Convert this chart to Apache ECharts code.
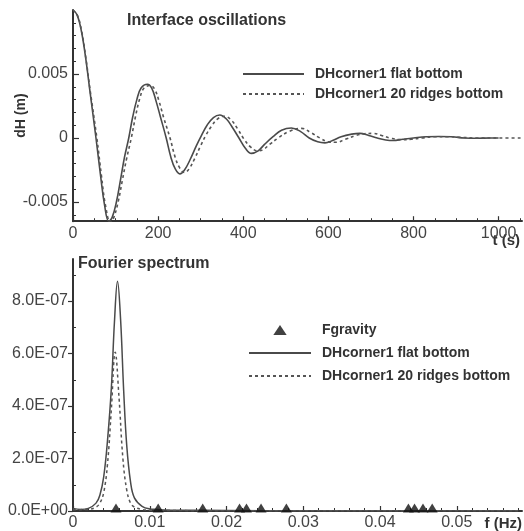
<!DOCTYPE html>
<html>
<head>
<meta charset="utf-8">
<script src="https://cdn.jsdelivr.net/npm/echarts@6/dist/echarts.min.js"></script>
<style>
html,body{margin:0;padding:0;background:#fff;}
#c{width:524px;height:531px;}
</style>
</head>
<body>
<div id="c"></div>
<script>
// ---- Top chart: interface oscillations ----
const tFlat  = [0,10,20,30,40,54,65,74,84,92,102,112,121,131,140,150,160,175,185,195,205,219,230,240,251,262,275,290,302,315,330,345,360,375,390,405,419,435,450,470,490,513,535,555,575,592,610,630,655,674,695,715,735,752,775,800,830,860,890,920,950,980,1000];
const dhFlat = [0.0100,0.0096,0.0083,0.0062,0.0036,0,-0.0030,-0.0052,-0.0065,-0.0062,-0.0050,-0.0032,-0.0015,0,0.0016,0.0030,0.0039,0.0042,0.0039,0.0029,0.0017,0,-0.0015,-0.0024,-0.0028,-0.0025,-0.0017,-0.0006,0.0002,0.0010,0.0016,0.0018,0.0015,0.0008,0.0000,-0.0008,-0.0012,-0.0010,-0.0005,0.0001,0.0006,0.00078,0.0005,0.0000,-0.0003,-0.00038,-0.0002,0.0001,0.0003,0.00036,0.0002,0.0000,-0.00015,-0.0002,-0.0001,0.0000,0.0001,0.00012,0.0001,0.0000,-0.00002,0.0,0.0];
const tRidges  = [0,10,20,30,40,56,67,76,88,96,106,116,126,137,147,157,167,182,192,202,213,228,240,250,262,273,286,300,312,325,340,356,372,387,402,417,433,447,462,482,507,537,560,580,600,619,640,665,685,705,725,745,772,795,820,850,880,910,950,1000,1055];
const dhRidges = [0.0100,0.0096,0.0084,0.0063,0.0038,0,-0.0030,-0.0052,-0.0066,-0.0062,-0.0050,-0.0033,-0.0016,0,0.0017,0.0031,0.0039,0.0041,0.0038,0.0029,0.0016,0,-0.0015,-0.0023,-0.0027,-0.0024,-0.0016,-0.0006,0.0002,0.0009,0.0015,0.0017,0.0014,0.0007,-0.0001,-0.0007,-0.0010,-0.0009,-0.0005,0.0000,0.0005,0.00075,0.0004,0.0000,-0.0003,-0.00033,-0.0001,0.0002,0.00033,0.00036,0.0002,0.0000,-0.00013,-0.0001,0.0000,0.0001,0.0001,0.00005,0.0,0.0,0.0];
const tTicks  = [0,200,400,600,800,1000];
const tMinor  = [50,100,150,250,300,350,450,500,550,650,700,750,850,900,950,1050];
const dhTicks = [-0.005,0,0.005];
const dhMinor = [-0.006,-0.004,-0.003,-0.002,-0.001,0.001,0.002,0.003,0.004,0.006,0.007,0.008,0.009];

// ---- Bottom chart: Fourier spectrum ----
const fFlat  = [0,0.001,0.002,0.003,0.0035,0.004,0.0045,0.005,0.0054,0.0058,0.0062,0.0066,0.007,0.0075,0.008,0.009,0.010,0.011,0.012,0.014,0.02,0.03,0.04,0.05,0.058];
const aFlat  = [1.0e-8,0.6e-8,1.0e-8,3e-8,6e-8,1.3e-7,2.7e-7,4.7e-7,7.2e-7,8.75e-7,7.3e-7,4.6e-7,2.5e-7,1.1e-7,5e-8,1.8e-8,0.8e-8,0.6e-8,0.4e-8,0.3e-8,0.2e-8,0.1e-8,0.1e-8,0.1e-8,0.1e-8];
const fRidges = [0,0.002,0.003,0.0035,0.004,0.0045,0.005,0.0055,0.006,0.0065,0.007,0.0075,0.008,0.009,0.01,0.012,0.02,0.03,0.04,0.05,0.058];
const aRidges = [0.5e-8,0.6e-8,1.5e-8,3e-8,7e-8,1.8e-7,3.9e-7,6.05e-7,4.3e-7,2.0e-7,8e-8,3e-8,1.5e-8,0.6e-8,0.3e-8,0.2e-8,0.1e-8,0.1e-8,0.1e-8,0.1e-8,0.1e-8];
const fGravity = [0.0056,0.0111,0.0169,0.0217,0.0226,0.0245,0.0278,0.0437,0.0445,0.0456,0.0468];
const fTicks = [0,0.01,0.02,0.03,0.04,0.05];
const fMinor = [0.002,0.004,0.006,0.008,0.012,0.014,0.016,0.018,0.022,0.024,0.026,0.028,0.032,0.034,0.036,0.038,0.042,0.044,0.046,0.048,0.052,0.054,0.056,0.058];
const aTicks = [0,2e-7,4e-7,6e-7,8e-7];
const aMinor = [1e-7,3e-7,5e-7,7e-7,9e-7];

const NAME_FLAT = 'DHcorner1 flat bottom';
const NAME_RIDGES = 'DHcorner1 20 ridges bottom';
const NAME_GRAV = 'Fgravity';

const zip = (a, b) => a.map((v, i) => [v, b[i]]);
const FONT = 'Liberation Sans, Arial, sans-serif';
const labelColor = '#444';
const axisColor = '#333';

function sci(v) {
  if (v === 0) return '0.0E+00';
  const e = Math.floor(Math.log10(Math.abs(v)) + 1e-9);
  const m = v / Math.pow(10, e);
  const sign = e < 0 ? '-' : '+';
  const ae = Math.abs(e);
  return m.toFixed(1) + 'E' + sign + (ae < 10 ? '0' + ae : ae);
}
function plain(v) { return String(Math.round(v * 1e6) / 1e6); }

const chart = echarts.init(document.getElementById('c'), null, {renderer: 'canvas'});

const T_MAX = 1055, DH_MIN = -0.0065, DH_MAX = 0.0100;
const F_MAX = 0.0585, A_MAX = 9.6e-7;

const hiddenSym = {opacity: 0, color: 'transparent', borderWidth: 0};
const legendText = {fontFamily: FONT, fontSize: 14, fontWeight: 'bold', color: '#333', padding: [0,0,0,6]};

chart.setOption({
  animation: false,
  backgroundColor: '#fff',
  title: [
    {text: 'Interface oscillations', left: 127, top: 13, padding: 0,
     textStyle: {fontFamily: FONT, fontSize: 16, fontWeight: 'bold', color: '#333'}},
    {text: 'Fourier spectrum', left: 78, top: 256, padding: 0,
     textStyle: {fontFamily: FONT, fontSize: 16, fontWeight: 'bold', color: '#333'}}
  ],
  legend: [
    {data: [{name: NAME_FLAT, itemStyle: hiddenSym}, {name: NAME_RIDGES, itemStyle: hiddenSym}],
     orient: 'vertical', left: 242, top: 67,
     itemWidth: 61, itemHeight: 10, itemGap: 6, padding: 0, selectedMode: false, textStyle: legendText},
    {data: [{name: NAME_GRAV, icon: 'path://M6,0 L12,9 L0,9 Z'},
            {name: NAME_FLAT, itemStyle: hiddenSym}, {name: NAME_RIDGES, itemStyle: hiddenSym}],
     orient: 'vertical', left: 248, top: 323,
     itemWidth: 62, itemHeight: 10, itemGap: 9, padding: 0, selectedMode: false, textStyle: legendText}
  ],
  grid: [
    {left: 73, top: 10, width: 449, height: 211.2, containLabel: false, outerBoundsMode: 'none'},
    {left: 73, top: 259, width: 449, height: 252, containLabel: false, outerBoundsMode: 'none'}
  ],
  xAxis: [
    {type: 'value', gridIndex: 0, position: 'bottom', min: 0, max: T_MAX,
     name: 't (s)', nameLocation: 'end', nameGap: 0, nameMoveOverlap: false,
     nameTextStyle: {fontFamily: FONT, fontSize: 15, fontWeight: 'bold', color: '#333', align: 'right', verticalAlign: 'top', padding: [12,2,0,0]},
     axisLine: {show: true, onZero: false, lineStyle: {color: axisColor, width: 2}},
     axisTick: {show: true, inside: true, length: 5, customValues: tTicks, lineStyle: {color: axisColor, width: 1.2}},
     axisLabel: {customValues: tTicks, fontFamily: FONT, fontSize: 16, color: labelColor, margin: 4, formatter: plain},
     splitLine: {show: false}},
    {type: 'value', gridIndex: 0, position: 'bottom', min: 0, max: T_MAX,
     axisLine: {show: false, onZero: false}, axisLabel: {show: false}, splitLine: {show: false},
     axisTick: {show: true, inside: true, length: 3, customValues: tMinor, lineStyle: {color: axisColor, width: 1}}},
    {type: 'value', gridIndex: 1, position: 'bottom', min: 0, max: F_MAX,
     name: 'f (Hz)', nameLocation: 'end', nameGap: 0, nameMoveOverlap: false,
     nameTextStyle: {fontFamily: FONT, fontSize: 15, fontWeight: 'bold', color: '#333', align: 'right', verticalAlign: 'top', padding: [5,0,0,0]},
     axisLine: {show: true, onZero: false, lineStyle: {color: axisColor, width: 2}},
     axisTick: {show: true, inside: true, length: 5, customValues: fTicks, lineStyle: {color: axisColor, width: 1.2}},
     axisLabel: {customValues: fTicks, fontFamily: FONT, fontSize: 16, color: labelColor, margin: 4,
                 formatter: v => v === 0 ? '0' : v.toFixed(2)},
     splitLine: {show: false}},
    {type: 'value', gridIndex: 1, position: 'bottom', min: 0, max: F_MAX,
     axisLine: {show: false, onZero: false}, axisLabel: {show: false}, splitLine: {show: false},
     axisTick: {show: true, inside: true, length: 3, customValues: fMinor, lineStyle: {color: axisColor, width: 1}}}
  ],
  yAxis: [
    {type: 'value', gridIndex: 0, position: 'left', min: DH_MIN, max: DH_MAX,
     name: 'dH (m)', nameLocation: 'middle', nameGap: 45, nameMoveOverlap: false,
     nameTextStyle: {fontFamily: FONT, fontSize: 14, fontWeight: 'bold', color: '#333'},
     axisLine: {show: true, onZero: false, lineStyle: {color: axisColor, width: 2}},
     axisTick: {show: true, inside: true, length: 6, customValues: dhTicks, lineStyle: {color: axisColor, width: 1.2}},
     axisLabel: {customValues: dhTicks, fontFamily: FONT, fontSize: 16, color: labelColor, margin: 5, formatter: plain},
     splitLine: {show: false}},
    {type: 'value', gridIndex: 0, position: 'left', min: DH_MIN, max: DH_MAX,
     axisLine: {show: false, onZero: false}, axisLabel: {show: false}, splitLine: {show: false},
     axisTick: {show: true, inside: true, length: 3, customValues: dhMinor, lineStyle: {color: axisColor, width: 1}}},
    {type: 'value', gridIndex: 1, position: 'left', min: 0, max: A_MAX,
     axisLine: {show: true, onZero: false, lineStyle: {color: axisColor, width: 2}},
     axisTick: {show: true, inside: false, length: 5, customValues: aTicks, lineStyle: {color: axisColor, width: 1.2}},
     axisLabel: {customValues: aTicks, fontFamily: FONT, fontSize: 16, color: labelColor, margin: 5, formatter: sci},
     splitLine: {show: false}},
    {type: 'value', gridIndex: 1, position: 'left', min: 0, max: A_MAX,
     axisLine: {show: false, onZero: false}, axisLabel: {show: false}, splitLine: {show: false},
     axisTick: {show: true, inside: true, length: 3, customValues: aMinor, lineStyle: {color: axisColor, width: 1}}}
  ],
  series: [
    {name: NAME_FLAT, type: 'line', xAxisIndex: 0, yAxisIndex: 0, data: zip(tFlat, dhFlat),
     symbol: 'none', smooth: 0.4, lineStyle: {color: '#4a4a4a', width: 1.6, type: 'solid'}, itemStyle: {color: '#4a4a4a'}},
    {name: NAME_RIDGES, type: 'line', xAxisIndex: 0, yAxisIndex: 0, data: zip(tRidges, dhRidges),
     symbol: 'none', smooth: 0.4, lineStyle: {color: '#555', width: 1.6, type: [3, 3]}, itemStyle: {color: '#555'}},
    {name: NAME_FLAT, type: 'line', xAxisIndex: 2, yAxisIndex: 2, data: zip(fFlat, aFlat),
     symbol: 'none', smooth: 0.4, lineStyle: {color: '#4a4a4a', width: 1.5, type: 'solid'}, itemStyle: {color: '#4a4a4a'}},
    {name: NAME_RIDGES, type: 'line', xAxisIndex: 2, yAxisIndex: 2, data: zip(fRidges, aRidges),
     symbol: 'none', smooth: 0.4, lineStyle: {color: '#555', width: 1.5, type: [3, 3]}, itemStyle: {color: '#555'}},
    {name: NAME_GRAV, type: 'scatter', xAxisIndex: 2, yAxisIndex: 2, data: fGravity.map(f => [f, 0]),
     symbol: 'triangle', symbolSize: [11, 9], symbolOffset: [0, -3], clip: false, z: 5,
     itemStyle: {color: '#111'}}
  ]
});
</script>
</body>
</html>
